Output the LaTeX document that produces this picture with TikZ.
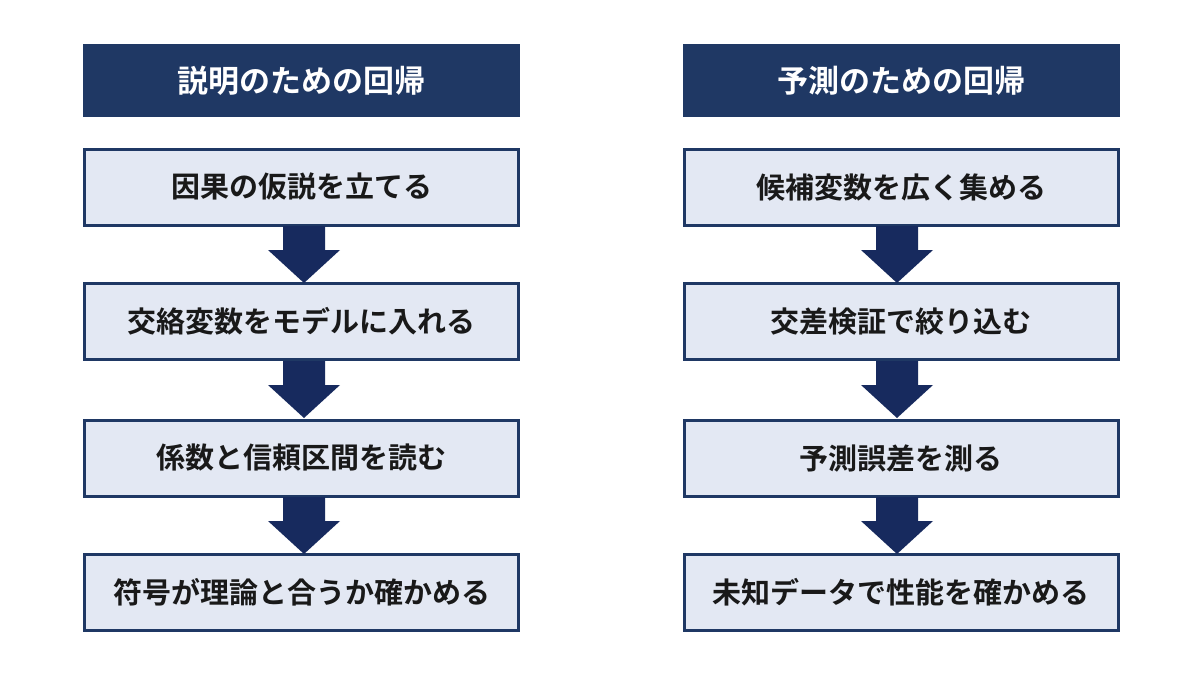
\documentclass[tikz,border=0pt]{standalone}
\usepackage{fontspec}
\setmainfont{Noto Sans CJK JP}
\newfontfamily\cjkb{Noto Sans CJK JP Bold}
\definecolor{navy}{HTML}{1F3864}
\definecolor{boxfill}{HTML}{E3E8F3}
\definecolor{arr}{HTML}{172A5E}
\begin{document}
\begin{tikzpicture}[x=1pt,y=-1pt,
 hdr/.style={fill=navy,text=white,minimum width=437pt,minimum height=73pt,inner sep=0pt,font=\cjkb\fontsize{31}{36}\selectfont},
 stp/.style={fill=boxfill,draw=navy,line width=3pt,minimum width=434pt,minimum height=76pt,inner sep=0pt,font=\cjkb\fontsize{29}{34}\selectfont,text=black!90},
 dn/.style={fill=arr}]
\useasboundingbox (0,0) rectangle (1200,675);
\fill[white] (0,0) rectangle (1200,675);
\newcommand{\blkarrow}[2]{% x center, top y
 \fill[arr] (#1-21,#2) -- (#1+21,#2) -- (#1+21,#2+24) -- (#1+36,#2+24) -- (#1,#2+57) -- (#1-36,#2+24) -- (#1-21,#2+24) -- cycle;}
\node[hdr] (lh) at (301.5,80.5) {説明のための回帰};
\node[stp] (l1) at (301.5,187) {因果の仮説を立てる};
\node[stp] (l2) at (301.5,321.5) {交絡変数をモデルに入れる};
\node[stp] (l3) at (301.5,458) {係数と信頼区間を読む};
\node[stp] (l4) at (301.5,592) {符号が理論と合うか確かめる};
\node[hdr] (rh) at (901,80.5) {予測のための回帰};
\node[stp] (r1) at (901,187) {候補変数を広く集める};
\node[stp] (r2) at (901,321.5) {交差検証で絞り込む};
\node[stp] (r3) at (901,458) {予測誤差を測る};
\node[stp] (r4) at (901,592) {未知データで性能を確かめる};
\blkarrow{304}{226}
\blkarrow{304}{361}
\blkarrow{304}{497}
\blkarrow{897}{226}
\blkarrow{897}{361}
\blkarrow{897}{497}
\end{tikzpicture}
\end{document}
